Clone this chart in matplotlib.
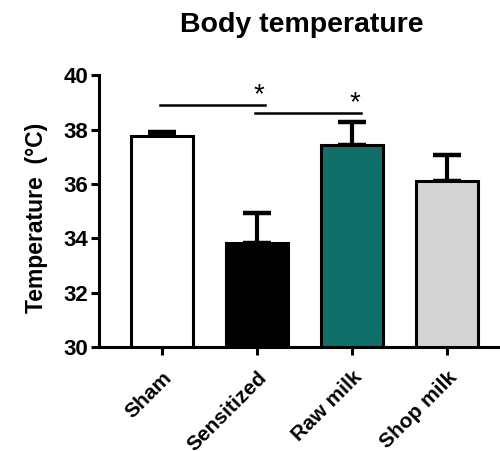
import numpy as np
import matplotlib
matplotlib.use("Agg")
import matplotlib.pyplot as plt

# data
groups = ["Sham", "Sensitized", "Raw milk", "Shop milk"]
means = [37.75, 33.82, 37.42, 36.1]
errs = [0.15, 1.12, 0.86, 0.98]
colors = ["white", "black", "#106f69", "#d4d4d4"]

# significance brackets: (x start, x end, y, star x)
sig_lines = [(-0.02, 1.09, 38.92, 1.02), (0.98, 2.1, 38.6, 2.03)]

plt.rcParams['font.family'] = ['Liberation Sans', 'DejaVu Sans']
plt.rcParams['font.weight'] = 'bold'

fig = plt.figure(figsize=(5, 4.51), dpi=100)
ax = fig.add_axes([0.198, 0.2306, 0.81, 0.6024])

x = np.arange(len(groups))
ax.bar(x, means, width=0.65, color=colors, edgecolor="black", linewidth=2.2, zorder=2)
ax.errorbar(x, means, yerr=[np.zeros(len(errs)), errs], fmt="none", ecolor="black",
            elinewidth=3, capsize=10, capthick=3.2, zorder=1)

for x0, x1, y, sx in sig_lines:
    ax.plot([x0, x1], [y, y], color="black", linewidth=1.8, clip_on=False)
    ax.text(sx, y - 0.12, "*", ha="center", va="bottom", fontsize=20, fontweight="normal")

ax.set_ylim(30, 40)
ax.set_xlim(-0.66, 3.6)
ax.set_yticks([30, 32, 34, 36, 38, 40])
ax.set_xticks(x)
ax.set_xticklabels(groups, rotation=45, ha="right", rotation_mode="anchor", fontsize=15, fontweight="bold")
ax.tick_params(axis="y", labelsize=16, width=2.2, length=6, pad=2)
ax.tick_params(axis="x", width=2.2, length=6, pad=9)
for lbl in ax.get_yticklabels():
    lbl.set_fontweight("bold")

for s in ["top", "right"]:
    ax.spines[s].set_visible(False)
for s in ["left", "bottom"]:
    ax.spines[s].set_linewidth(2.2)

ax.set_ylabel("Temperature  (°C)", fontsize=16.5, fontweight="bold")
ax.yaxis.set_label_coords(-0.127, 0.474)
fig.text(0.604, 0.945, "Body temperature", ha="center", va="center", fontsize=20.5, fontweight="bold")

fig.savefig("out.png", dpi=100)
